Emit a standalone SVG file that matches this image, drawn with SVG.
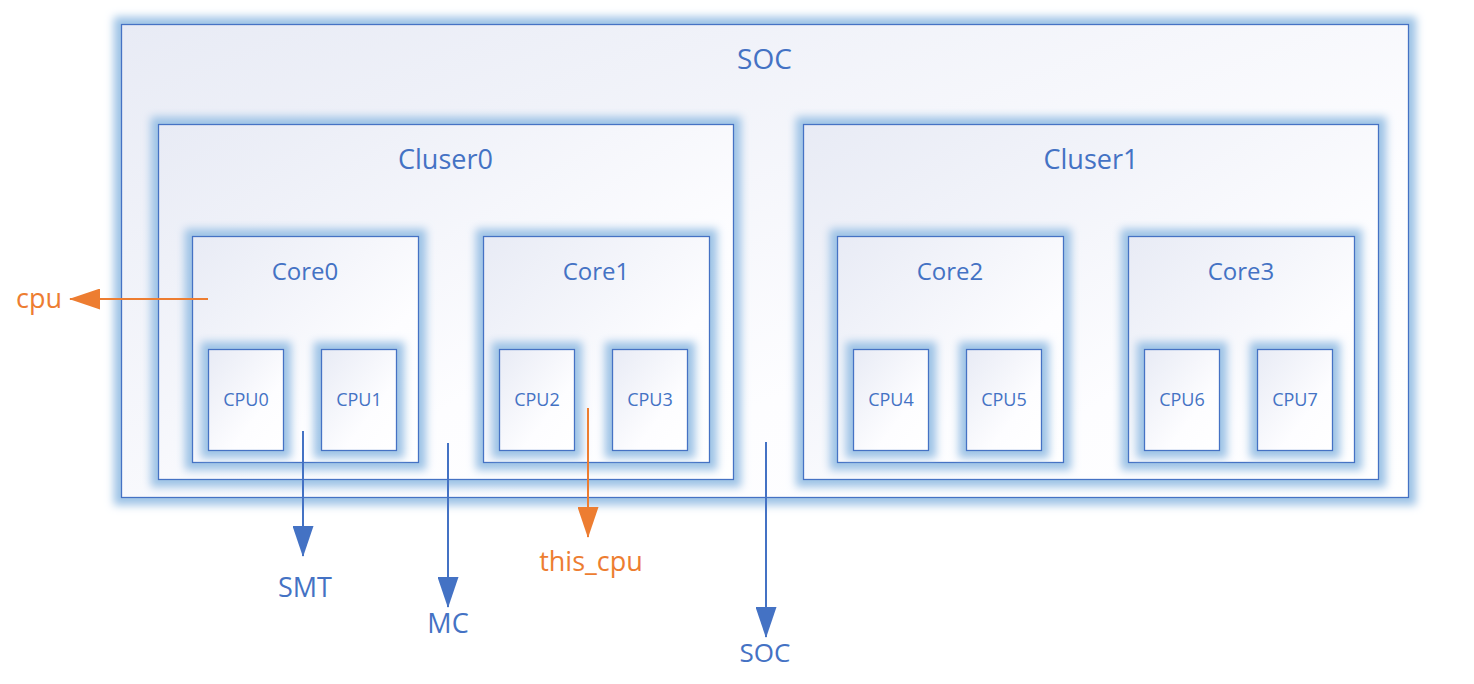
<svg xmlns="http://www.w3.org/2000/svg" width="1474" height="684" viewBox="0 0 1474 684">
<defs>
<linearGradient id="fillg" x1="0" y1="0" x2="1" y2="1">
<stop offset="0" stop-color="#e8ebf5"/>
<stop offset="0.65" stop-color="#fdfdff"/>
<stop offset="1" stop-color="#ffffff"/>
</linearGradient>
<filter id="glow" x="-30%" y="-30%" width="160%" height="160%">
<feMorphology in="SourceAlpha" operator="dilate" radius="7" result="d"/>
<feGaussianBlur in="d" stdDeviation="4" result="b"/>
<feFlood flood-color="#9dc3e6" flood-opacity="1"/>
<feComposite in2="b" operator="in" result="g"/>
<feMerge><feMergeNode in="g"/><feMergeNode in="SourceGraphic"/></feMerge>
</filter>
<marker id="ab" markerUnits="userSpaceOnUse" markerWidth="31" markerHeight="21" refX="30" refY="10.5" orient="auto">
<path d="M0,0 L31,10.5 L0,21 z" fill="#4472c4"/>
</marker>
<marker id="ao" markerUnits="userSpaceOnUse" markerWidth="31" markerHeight="21" refX="30" refY="10.5" orient="auto">
<path d="M0,0 L31,10.5 L0,21 z" fill="#ed7d31"/>
</marker>
</defs>
<style>
.box{fill:url(#fillg);stroke:#4472c4;stroke-width:1.3;filter:url(#glow)}
text{font-family:"Open Sans","Noto Sans","DejaVu Sans",sans-serif;text-anchor:middle}
.b{fill:#4472c4}
.o{fill:#ed7d31}
.t1{font-size:28px}
.t2{font-size:27px}
.t3{font-size:24px}
.t4{font-size:18px}
.lb{stroke:#4472c4;stroke-width:2;fill:none}
.lo{stroke:#ed7d31;stroke-width:2;fill:none}
</style>
<g id="soc"><rect class="box" x="121.5" y="24.5" width="1287" height="473"/><text class="b t1" x="764.5" y="69">SOC</text></g>
<g id="cluster0"><rect class="box" x="158.5" y="124.5" width="575" height="355"/><text class="b t2" x="445.5" y="169">Cluser0</text></g>
<g id="cluster1"><rect class="box" x="803.5" y="124.5" width="575" height="355"/><text class="b t2" x="1091" y="169">Cluser1</text></g>
<g id="core0"><rect class="box" x="192.5" y="236.5" width="226" height="226"/><text class="b t3" x="305" y="280">Core0</text></g>
<g id="core1"><rect class="box" x="483.5" y="236.5" width="226" height="226"/><text class="b t3" x="596" y="280">Core1</text></g>
<g id="core2"><rect class="box" x="837.5" y="236.5" width="226" height="226"/><text class="b t3" x="950" y="280">Core2</text></g>
<g id="core3"><rect class="box" x="1128.5" y="236.5" width="226" height="226"/><text class="b t3" x="1241" y="280">Core3</text></g>
<g id="cpu0"><rect class="box" x="208.5" y="349.5" width="75" height="101"/><text class="b t4" x="246" y="406">CPU0</text></g>
<g id="cpu1"><rect class="box" x="321.5" y="349.5" width="75" height="101"/><text class="b t4" x="359" y="406">CPU1</text></g>
<g id="cpu2"><rect class="box" x="499.5" y="349.5" width="75" height="101"/><text class="b t4" x="537" y="406">CPU2</text></g>
<g id="cpu3"><rect class="box" x="612.5" y="349.5" width="75" height="101"/><text class="b t4" x="650" y="406">CPU3</text></g>
<g id="cpu4"><rect class="box" x="853.5" y="349.5" width="75" height="101"/><text class="b t4" x="891" y="406">CPU4</text></g>
<g id="cpu5"><rect class="box" x="966.5" y="349.5" width="75" height="101"/><text class="b t4" x="1004" y="406">CPU5</text></g>
<g id="cpu6"><rect class="box" x="1144.5" y="349.5" width="75" height="101"/><text class="b t4" x="1182" y="406">CPU6</text></g>
<g id="cpu7"><rect class="box" x="1257.5" y="349.5" width="75" height="101"/><text class="b t4" x="1295" y="406">CPU7</text></g>
<g id="connectors">
<line class="lo" x1="208" y1="299" x2="70" y2="299" marker-end="url(#ao)"/>
<line class="lb" x1="303" y1="431" x2="303" y2="556" marker-end="url(#ab)"/>
<line class="lb" x1="448" y1="443" x2="448" y2="607" marker-end="url(#ab)"/>
<line class="lo" x1="588" y1="408" x2="588" y2="537" marker-end="url(#ao)"/>
<line class="lb" x1="766" y1="442" x2="766" y2="637" marker-end="url(#ab)"/>
</g>
<g id="labels">
<text class="o t2" x="39" y="308">cpu</text>
<text class="b t2" x="305" y="597">SMT</text>
<text class="b t2" x="448" y="633">MC</text>
<text class="o t2" x="591" y="571">this_cpu</text>
<text class="b" style="font-size:26px" x="765" y="662">SOC</text>
</g>
</svg>
